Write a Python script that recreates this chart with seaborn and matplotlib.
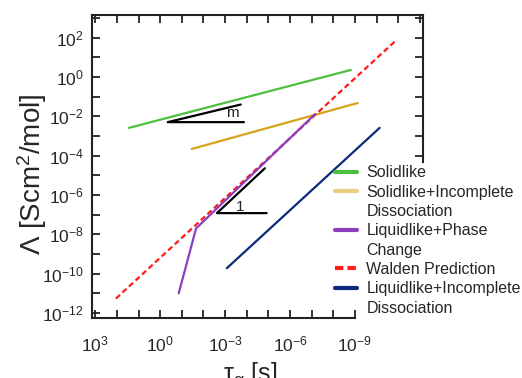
import matplotlib
matplotlib.use("Agg")
import matplotlib.pyplot as plt
import numpy as np
import pandas as pd
import seaborn as sns
from matplotlib.lines import Line2D
from matplotlib.ticker import FixedLocator, FuncFormatter, NullLocator

# data (tau in s, Lambda in S cm^2/mol)
solid_tau = [28, 1.55e-9]
solid_lam = [2.6e-3, 2.3]
solid_inc_tau = [3.5e-2, 7.4e-10]
solid_inc_lam = [2.2e-4, 4.8e-2]
liquid_phase_tau = [0.14, 2.2e-2, 7e-8]
liquid_phase_lam = [1e-11, 2e-8, 1.3e-2]
walden_tau = [112, 1.15e-11]
walden_lam = [5.4e-12, 80]
liquid_inc_tau = [8.3e-4, 7.2e-11]
liquid_inc_lam = [1.9e-10, 2.6e-3]

# slope guides
tri_m_tau = [1.9e-4, 0.45, 1.35e-4]
tri_m_lam = [4e-2, 5.1e-3, 5.1e-3]
tri_1_tau = [1.45e-5, 2.4e-3, 1.2e-5]
tri_1_lam = [2.3e-5, 1.2e-7, 1.2e-7]

labels = ["Solidlike", "Solidlike+Incomplete", "Dissociation", "Liquidlike+Phase",
          "Change", "Walden Prediction", "Liquidlike+Incomplete", "Dissociation"]

sns.set_style("ticks")
plt.rcParams["font.family"] = ["Liberation Sans", "DejaVu Sans"]
plt.rcParams["mathtext.fontset"] = "custom"
plt.rcParams["mathtext.rm"] = "Liberation Sans"
plt.rcParams["mathtext.it"] = "Liberation Sans:italic"
plt.rcParams["mathtext.bf"] = "Liberation Sans:bold"

fig = plt.figure(figsize=(5.22, 3.78), dpi=100)
ax = fig.add_axes([0.176, 0.159, 0.634, 0.802])

green = "#4dbf3f"
orange = "#d9a21b"
purple = "#8b3fbf"
red = "#ff1a1a"
navy = "#0b2a78"

def draw(tau, lam, color, **kw):
    df = pd.DataFrame({"tau": tau, "lam": lam})
    sns.lineplot(data=df, x="tau", y="lam", ax=ax, color=color, sort=False,
                 estimator=None, lw=1.6, **kw)

draw(solid_tau, solid_lam, green)
draw(solid_inc_tau, solid_inc_lam, orange)
draw(walden_tau, walden_lam, red, linestyle=(0, (2.5, 1.5)))
draw(liquid_phase_tau, liquid_phase_lam, purple)
draw(liquid_inc_tau, liquid_inc_lam, navy)
draw(tri_m_tau, tri_m_lam, "black")
draw(tri_1_tau, tri_1_lam, "black")
ax.text(4.4e-4, 1.5e-2, "m", fontsize=11, ha="center", va="center", color="#222222")
ax.text(2.1e-4, 2.4e-7, "1", fontsize=11, ha="center", va="center", color="#222222")

ax.set_xscale("log")
ax.set_yscale("log")
ax.set_xlim(10 ** 3.16, 10 ** -12.14)
ax.set_ylim(10 ** -12.25, 10 ** 3.17)

ax.xaxis.set_major_locator(FixedLocator(10.0 ** np.arange(-12, 4)))
ax.yaxis.set_major_locator(FixedLocator(10.0 ** np.arange(-12, 4)))
ax.xaxis.set_minor_locator(NullLocator())
ax.yaxis.set_minor_locator(NullLocator())

def xfmt(v, pos):
    e = int(round(np.log10(v)))
    return r"$10^{%d}$" % e if e % 3 == 0 and e >= -9 else ""

def yfmt(v, pos):
    e = int(round(np.log10(v)))
    return r"$10^{%d}$" % e if e % 2 == 0 else ""

ax.xaxis.set_major_formatter(FuncFormatter(xfmt))
ax.yaxis.set_major_formatter(FuncFormatter(yfmt))
ax.tick_params(which="both", direction="in", length=6, width=1.3, top=True,
               right=True, labelsize=12.5, color="#222222")
ax.tick_params(axis="y", pad=6)
ax.tick_params(axis="x", pad=12)
for s in ax.spines.values():
    s.set_linewidth(1.5)
    s.set_color("#222222")

# the legend hides the lower right part of the frame
ax.spines["bottom"].set_bounds(10 ** 3.16, 1e-9)
ax.spines["right"].set_bounds(10 ** -4.3, 10 ** 3.17)
for v, t in zip(10.0 ** np.arange(-12, 4), ax.xaxis.get_major_ticks()):
    if v < 5e-10:
        t.tick1line.set_visible(False)
for v, t in zip(10.0 ** np.arange(-12, 4), ax.yaxis.get_major_ticks()):
    if v < 5e-5:
        t.tick2line.set_visible(False)

ax.set_xlabel(r"τ$_\mathrm{α}$ [s]", fontsize=18)
ax.set_ylabel(r"Λ [Scm$^2$/mol]", fontsize=20)
ax.xaxis.set_label_coords(0.48, -0.14)
ax.yaxis.set_label_coords(-0.13, 0.475)

blank = Line2D([], [], color="none")
handles = [Line2D([], [], color=green, lw=3),
           Line2D([], [], color="#ebcd80", lw=3), blank,
           Line2D([], [], color=purple, lw=3), blank,
           Line2D([], [], color=red, lw=3, linestyle=(0, (2, 1))),
           Line2D([], [], color=navy, lw=3), blank]
fig.legend(handles, labels, loc="upper left", bbox_to_anchor=(0.636, 0.571),
           frameon=False, fontsize=11.5, labelspacing=0.27, handlelength=1.35,
           handletextpad=0.6, borderpad=0.2, borderaxespad=0)

fig.savefig("out.png", dpi=100)
